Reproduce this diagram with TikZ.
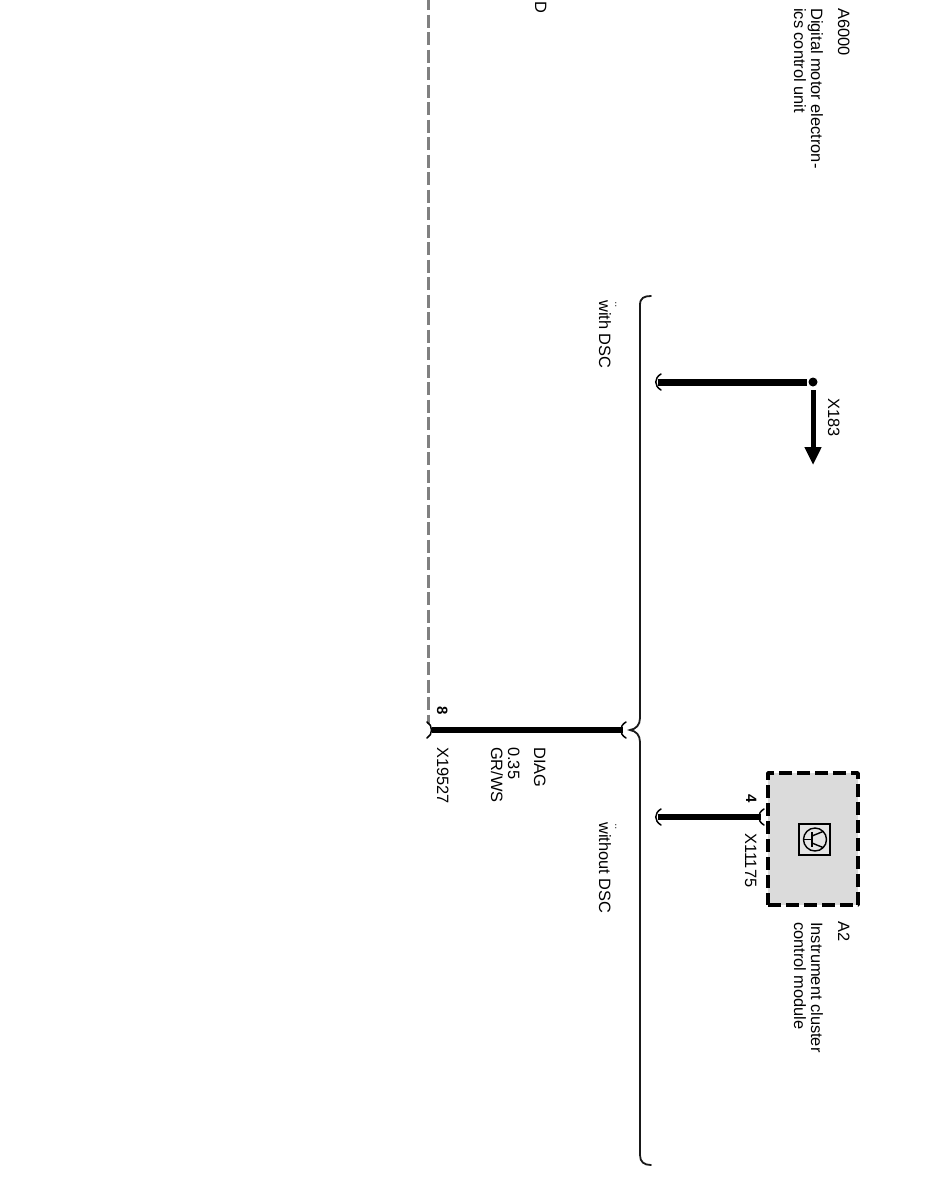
\documentclass[tikz,border=0pt]{standalone}
\usepackage{fontspec}
\setmainfont{Liberation Sans}
\usetikzlibrary{arrows.meta}
\tikzset{
  x=1pt,y=-1pt,
  lab/.style={rotate=-90,anchor=base west,inner sep=0pt,font=\fontsize{16.4}{18}\selectfont},
  bold lab/.style={lab,font=\fontsize{15}{16}\selectfont\bfseries},
  mark lab/.style={rotate=-90,anchor=base west,inner sep=0pt,font=\fontsize{12}{12}\selectfont,text=black!70},
  wire/.style={line width=6pt,black},
  brace/.style={line width=1.8pt,black!90,line cap=round},
  cup/.style={line width=1.5pt,black,line cap=round},
  dashwire/.style={line width=3pt,color=black!50,dash pattern=on 13pt off 4.5pt},
  modbox/.style={line width=3.6pt,black,fill=black!14,dash pattern=on 13pt off 5pt,line join=round},
  cupL/.pic={\draw[cup] (-5,-8) .. controls (1,-5) and (1,5) .. (-5,8);},
  cupR/.pic={\draw[cup] (3,-8) .. controls (-4,-4) and (-4,4) .. (3,8);},
}
\begin{document}
\begin{tikzpicture}
\useasboundingbox (0,0) rectangle (944,1186);
% texts
\node[lab] (t1) at (838,8) {A6000};
\node[lab] (t2) at (811,8) {Digital motor electron-};
\node[lab] (t3) at (794,8) {ics control unit};
\node[lab] (t4) at (535,1) {D};
\node[lab] (t5) at (599,300) {with DSC};
\node[mark lab] (m5) at (615,301) {..};
\node[lab] (t6) at (828,398) {X183};
\node[bold lab] (t7) at (437,706) {8};
\node[lab] (t8) at (534,747) {DIAG};
\node[lab] (t9) at (508,747) {0.35};
\node[lab] (t10) at (491,747) {GR/WS};
\node[lab] (t11) at (437,747) {X19527};
\node[bold lab] (t12) at (746,794) {4};
\node[lab] (t13) at (745,833) {X11175};
\node[lab] (t14) at (599,822) {without DSC};
\node[mark lab] (m14) at (615,823) {..};
\node[lab] (t15) at (838,921) {A2};
\node[lab] (t16) at (811,922) {Instrument cluster};
\node[lab] (t17) at (794,922) {control module};
% dashed line
\coordinate (dtop) at (428.5,-3);
\coordinate (dbot) at (428.5,724);
\draw[dashwire] (dtop) -- (dbot);
% brace
\coordinate (brT) at (651,296);
\coordinate (brB) at (651,1165);
\coordinate (brM) at (630,730);
\draw[brace] (brT) .. controls (644,296) and (640,298) .. (640,305)
  -- (640,718) .. controls (640,725) and (636,729) .. (brM)
  .. controls (636,731) and (640,735) .. (640,742)
  -- (640,1155) .. controls (640,1162) and (644,1165) .. (brB);
% main wire
\coordinate (w1a) at (432,730);
\coordinate (w1b) at (623,730);
\draw[wire] (w1a) -- (w1b);
\pic at (w1a) {cupL};
\pic at (w1b) {cupR};
% with DSC wire
\coordinate (w2a) at (658,382);
\coordinate (w2b) at (807,382);
\draw[wire,line width=7pt] (w2a) -- (w2b);
\pic at (w2a) {cupR};
\node[circle,fill=black,inner sep=0pt,minimum size=9pt] (dot) at (813,382) {};
\coordinate (arr) at (813,465);
\draw[line width=5pt,-{Triangle[length=18pt,width=16pt]}] ([yshift=-8pt]dot.center) -- (arr);
% module A2
\node[draw,modbox,minimum width=90pt,minimum height=132pt,inner sep=0pt] (A2) at (813,839) {};
\coordinate (w3a) at (658,817);
\coordinate (w3b) at (761,817);
\draw[wire,line width=5.5pt] (w3a) -- (w3b);
\pic at (w3a) {cupR};
\pic at (w3b) {cupR};
% icon
\node[draw,line width=2pt,minimum size=31pt,inner sep=0pt,fill=black!10] (icon) at (814,839.5) {};
\draw[line width=1.4pt] (815,839.5) circle[radius=11.5];
\draw[line width=1.4pt] (803.5,839.5) -- (812,839.5);
\draw[line width=1.6pt] (812,832) -- (812,847);
\draw[line width=1.4pt] (812,836) -- (823,831.5);
\draw[line width=1.4pt] (812,843) -- (823,847.5);
\end{tikzpicture}
\end{document}
